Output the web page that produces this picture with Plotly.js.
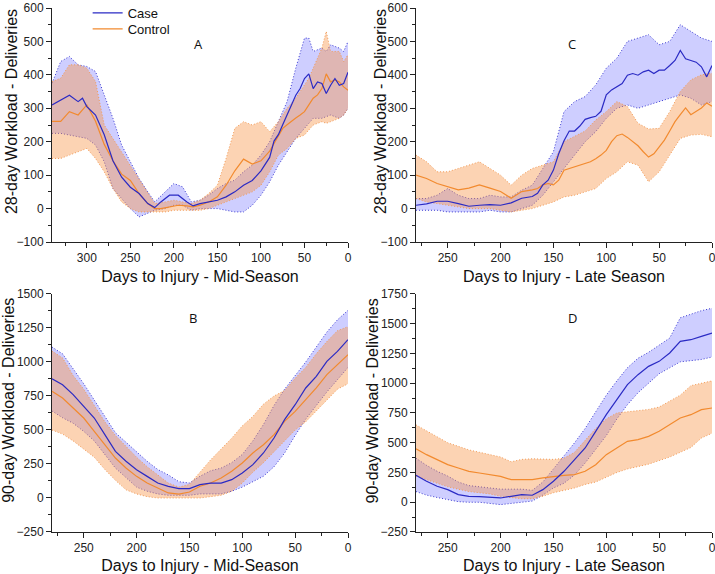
<!DOCTYPE html>
<html>
<head>
<meta charset="utf-8">
<script src="https://cdn.plot.ly/plotly-3.0.1.min.js"></script>
<style>html,body{margin:0;padding:0;background:#fff}#chart{width:715px;height:574px}</style>
</head>
<body>
<div id="chart"></div>
<script>
// ---------- Panel A: 28-day, Mid-Season ----------
const daysA_mean = [340,330,320,310,305,300,290,280,270,260,250,240,230,222,215,205,195,185,178,170,160,150,140,130,120,110,100,90,85,80,75,70,65,60,55,50,45,40,35,30,25,20,15,10,5,0];
const caseA_mean = [310,325,339,320,330,305,280,221,143,94,64,45,15,3,20,40,40,20,8,15,20,25,35,50,70,84,113,153,202,221,251,280,310,339,359,389,403,359,379,374,344,369,389,369,374,408];
const ctrlA_mean = [261,261,290,280,295,310,261,192,143,103,84,45,15,0,0,5,10,8,5,10,20,35,70,113,148,133,143,172,195,221,240,251,262,271,280,290,310,330,340,359,403,379,385,379,364,354];
const daysA_band = [340,330,320,310,300,290,280,270,260,250,240,230,222,210,200,190,180,170,160,150,140,130,120,110,100,90,80,70,60,50,45,40,30,25,20,10,5,0];
const caseA_upper = [375,440,455,430,425,410,340,270,190,140,90,50,20,50,75,65,20,25,40,60,75,85,110,130,160,200,260,320,420,510,510,470,480,470,490,480,470,500];
const caseA_lower = [225,225,220,215,210,190,140,60,30,0,-25,-15,-5,0,10,10,-5,0,0,0,-5,-10,-10,10,40,80,130,170,210,240,255,270,270,275,280,270,280,300];
const ctrlA_upper = [380,390,430,430,420,380,250,210,170,130,90,50,15,20,25,20,15,25,45,70,150,240,260,250,260,230,260,300,330,370,390,420,480,530,470,470,440,460];
const ctrlA_lower = [150,150,160,170,180,150,110,60,20,0,-10,-10,-10,-10,-5,-5,-5,-5,0,10,20,30,40,50,70,110,160,180,210,220,235,250,260,255,260,270,280,300];

// ---------- Panel C: 28-day, Late Season ----------
const daysC_mean = [280,270,260,250,240,230,220,210,200,190,180,170,165,160,155,150,145,140,135,130,125,120,115,110,105,100,95,90,85,80,75,70,65,60,55,50,45,40,35,30,25,20,15,10,5,0];
const caseC_mean = [10,14,22,22,15,7,10,12,10,17,31,36,46,71,85,115,164,203,232,232,247,267,272,276,291,340,355,365,374,399,404,399,409,414,404,414,414,428,443,473,448,443,438,424,394,428];
const ctrlC_mean = [100,90,75,66,56,61,71,61,51,31,51,56,60,71,75,71,85,115,120,125,128,135,140,149,160,174,200,218,223,213,200,188,170,154,164,183,205,232,260,281,301,281,290,301,316,306];
const daysC_band = [280,270,260,250,240,230,220,210,200,190,180,170,160,150,140,130,120,110,100,90,80,70,60,50,40,30,20,10,0];
const caseC_upper = [30,30,40,60,40,30,30,40,35,35,55,70,120,170,290,320,335,370,420,450,500,510,520,490,500,550,530,510,500];
const caseC_lower = [-5,-5,-5,-10,-10,-10,-10,-5,-10,-10,0,10,40,80,120,160,200,230,270,300,310,300,310,320,330,340,330,310,320];
const ctrlC_upper = [160,140,110,110,120,130,140,120,100,70,100,120,130,140,200,215,232,265,290,320,305,255,238,240,290,350,385,400,405];
const ctrlC_lower = [30,20,15,10,5,0,0,0,-5,-10,-5,0,10,20,35,40,50,60,90,110,140,130,80,110,160,210,220,222,215];

// ---------- Panel B: 90-day, Mid-Season ----------
const daysB = [280,270,260,250,240,230,220,210,200,190,180,170,160,150,140,130,120,110,100,90,80,70,60,50,40,30,20,10,0];
const caseB_mean = [877,833,760,674,588,466,343,270,208,159,110,86,69,69,98,110,110,135,184,245,331,441,576,686,809,895,1005,1078,1164];
const ctrlB_mean = [784,735,662,588,490,392,294,221,159,110,74,37,29,44,86,110,147,196,257,331,392,466,564,637,723,809,907,980,1054];
const caseB_upper = [1110,1060,950,840,720,600,480,410,340,270,210,170,120,110,160,200,220,260,320,420,540,680,800,900,1000,1110,1220,1310,1380];
const caseB_lower = [640,590,550,490,420,320,220,150,80,50,30,20,20,20,30,30,30,50,80,120,160,230,330,460,580,680,780,870,960];
const ctrlB_upper = [1080,1030,900,800,680,560,460,380,300,230,170,110,80,100,190,280,360,440,530,600,690,750,790,880,960,1060,1150,1230,1260];
const ctrlB_lower = [500,470,420,360,300,210,130,60,30,10,0,0,0,0,0,10,20,50,110,190,260,340,420,500,560,640,720,800,840];

// ---------- Panel D: 90-day, Late Season ----------
const daysD = [280,270,260,250,240,230,220,210,200,190,180,170,160,150,140,130,120,110,100,90,80,70,60,50,40,30,20,10,0];
const caseD_mean = [226,176,134,106,64,50,48,42,36,50,64,59,106,176,260,358,456,596,736,862,988,1072,1142,1184,1254,1352,1366,1394,1422];
const ctrlD_mean = [450,400,358,316,288,260,246,232,218,190,190,190,204,218,226,232,260,316,400,456,512,526,554,596,652,708,736,778,792];
const caseD_upper = [370,310,260,220,170,140,130,120,110,110,110,100,170,280,390,500,620,760,900,1020,1130,1210,1260,1320,1380,1550,1580,1610,1630];
const caseD_lower = [90,60,40,20,5,0,0,-10,-20,-10,0,10,60,120,160,230,330,440,560,700,820,920,1000,1080,1130,1180,1190,1200,1220];
const ctrlD_upper = [650,600,550,500,470,440,420,400,380,340,360,365,360,360,370,420,520,620,700,750,760,770,780,800,850,900,980,1000,1020];
const ctrlD_lower = [220,190,160,130,110,90,80,70,50,40,30,30,50,80,100,120,150,170,210,250,280,300,320,350,380,420,460,540,580];

// ---------- text ----------
const panelLetters = ['A', 'C', 'B', 'D'];
const xTitles = ['Days to Injury - Mid-Season', 'Days to Injury - Late Season', 'Days to Injury - Mid-Season', 'Days to Injury - Late Season'];
const yTitles = ['28-day Workload - Deliveries', '28-day Workload - Deliveries', '90-day Workload - Deliveries', '90-day Workload - Deliveries'];

// ---------- styles ----------
const BLUE = '#2a2ac4', ORANGE = '#f28a2e';
const BLUE_FILL = 'rgba(105,105,255,0.33)', ORANGE_FILL = 'rgba(248,150,75,0.42)';
const BLUE_DOT = '#3a3ad0', ORANGE_DOT = '#f29a55';
const DOT = '1px,2px';

function band(x, lo, hi, xa, ya, dotColor, fill) {
  return [
    {x: x, y: lo, xaxis: xa, yaxis: ya, type: 'scatter', mode: 'lines', showlegend: false, hoverinfo: 'skip',
     line: {color: dotColor, width: 1, dash: DOT}},
    {x: x, y: hi, xaxis: xa, yaxis: ya, type: 'scatter', mode: 'lines', showlegend: false, hoverinfo: 'skip',
     fill: 'tonexty', fillcolor: fill, line: {color: dotColor, width: 1, dash: DOT}}
  ];
}
function meanLine(x, y, xa, ya, color, name) {
  return {x: x, y: y, xaxis: xa, yaxis: ya, type: 'scatter', mode: 'lines', name: name, showlegend: false,
          line: {color: color, width: 1.2}};
}

const traces = [];
function panel(dm, cm, om, db, cu, cl, ou, ol, xa, ya) {
  traces.push(...band(db, cl, cu, xa, ya, BLUE_DOT, BLUE_FILL));
  traces.push(...band(db, ol, ou, xa, ya, ORANGE_DOT, ORANGE_FILL));
  traces.push(meanLine(dm, om, xa, ya, ORANGE, 'Control'));
  traces.push(meanLine(dm, cm, xa, ya, BLUE, 'Case'));
}
panel(daysA_mean, caseA_mean, ctrlA_mean, daysA_band, caseA_upper, caseA_lower, ctrlA_upper, ctrlA_lower, 'x', 'y');
panel(daysC_mean, caseC_mean, ctrlC_mean, daysC_band, caseC_upper, caseC_lower, ctrlC_upper, ctrlC_lower, 'x2', 'y2');
panel(daysB, caseB_mean, ctrlB_mean, daysB, caseB_upper, caseB_lower, ctrlB_upper, ctrlB_lower, 'x3', 'y3');
panel(daysD, caseD_mean, ctrlD_mean, daysD, caseD_upper, caseD_lower, ctrlD_upper, ctrlD_lower, 'x4', 'y4');
// legend entries (panel A), one per legend box so their spacing matches the reference
traces.push({x: [null], y: [null], xaxis: 'x', yaxis: 'y', type: 'scatter', mode: 'lines', name: 'Case', legend: 'legend', line: {color: BLUE, width: 1.2}});
traces.push({x: [null], y: [null], xaxis: 'x', yaxis: 'y', type: 'scatter', mode: 'lines', name: 'Control', legend: 'legend2', line: {color: ORANGE, width: 1.2}});

const FONT = 'Liberation Sans, Arial, sans-serif';
function xax(dom, range, title, anchor) {
  return {domain: dom, range: range, anchor: anchor, dtick: 50, tick0: 0, ticks: 'outside', ticklen: 5, tickwidth: 1,
          tickcolor: '#222', showline: true, linecolor: '#222', linewidth: 1, showgrid: false, zeroline: false,
          ticklabeloverflow: 'allow',
          minor: {ticks: 'outside', ticklen: 3, dtick: 25, tickcolor: '#222', showgrid: false},
          tickfont: {family: FONT, size: 12, color: '#222'},
          title: {text: title, font: {family: FONT, size: 16, color: '#111'}, standoff: 6}};
}
function yax(dom, range, dtick, anchor) {
  return {domain: dom, range: range, anchor: anchor, dtick: dtick, tick0: 0, ticks: 'outside', ticklen: 5, tickwidth: 1,
          tickcolor: '#222', showline: true, linecolor: '#222', linewidth: 1, showgrid: false, zeroline: false,
          ticklabeloverflow: 'allow',
          minor: {ticks: 'outside', ticklen: 3, dtick: dtick / 2, tickcolor: '#222', showgrid: false},
          tickfont: {family: FONT, size: 12, color: '#222'}};
}

const L = [0, 0.4485], R = [0.5515, 1], T = [0.5534, 1], B = [0, 0.4542];
const legendBase = {xanchor: 'left', yanchor: 'middle', bgcolor: 'rgba(0,0,0,0)',
                    font: {family: FONT, size: 13, color: '#111'}};
const letterFont = {family: 'Open Sans, sans-serif', size: 13, color: '#111'};
const yTitleFont = {family: FONT, size: 16, color: '#111'};
const letterPos = [[0.212, 0.952], [0.797, 0.952], [0.2045, 0.408], [0.798, 0.408]];
const yTitlePos = [[-0.0621, 0.8015], [0.497, 0.8015], [-0.0650, 0.2506], [0.486, 0.2506]];
const annotations = [];
letterPos.forEach((p, i) => annotations.push({text: panelLetters[i], x: p[0], y: p[1], xref: 'paper', yref: 'paper', showarrow: false, font: letterFont}));
yTitlePos.forEach((p, i) => annotations.push({text: yTitles[i], x: p[0], y: p[1], xref: 'paper', yref: 'paper', showarrow: false,
  textangle: -90, xanchor: 'center', yanchor: 'middle', font: yTitleFont}));

const layout = {
  width: 715, height: 574,
  margin: {l: 52, r: 3, t: 8, b: 42, autoexpand: false},
  paper_bgcolor: '#fff', plot_bgcolor: '#fff',
  showlegend: true,
  legend: Object.assign({x: 0.054, y: 0.9905}, legendBase),
  legend2: Object.assign({x: 0.054, y: 0.960}, legendBase),
  xaxis: xax(L, [340, 0], xTitles[0], 'y'),
  yaxis: yax(T, [-100, 600], 100, 'x'),
  xaxis2: xax(R, [280, 0], xTitles[1], 'y2'),
  yaxis2: yax(T, [-100, 600], 100, 'x2'),
  xaxis3: xax(L, [280, 0], xTitles[2], 'y3'),
  yaxis3: yax(B, [-250, 1500], 250, 'x3'),
  xaxis4: xax(R, [280, 0], xTitles[3], 'y4'),
  yaxis4: yax(B, [-250, 1750], 250, 'x4'),
  annotations: annotations
};
Plotly.newPlot('chart', traces, layout, {displayModeBar: false, staticPlot: true});
</script>
</body>
</html>
